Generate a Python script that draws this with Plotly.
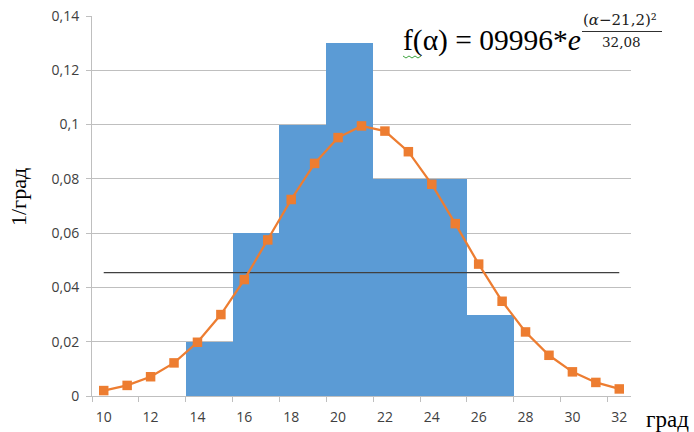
import plotly.graph_objects as go

# ---- data ----
alpha = [10, 11, 12, 13, 14, 15, 16, 17, 18, 19, 20, 21, 22, 23, 24, 25, 26, 27, 28, 29, 30, 31, 32]
f_vals = [0.0020, 0.0039, 0.0071, 0.0122, 0.0198, 0.0300, 0.0429, 0.0575, 0.0724, 0.0857,
          0.0952, 0.0995, 0.0976, 0.0900, 0.0780, 0.0635, 0.0486, 0.0349, 0.0236, 0.0150,
          0.0089, 0.0050, 0.0026]
bar_centers = [14.5, 16.5, 18.5, 20.5, 22.5, 24.5, 26.5]
bar_heights = [0.02, 0.06, 0.10, 0.13, 0.08, 0.08, 0.03]
uniform_x = [10, 32]
uniform_y = [0.04545, 0.04545]
x_tick_vals = [10, 12, 14, 16, 18, 20, 22, 24, 26, 28, 30, 32]
x_tick_text = ["10", "12", "14", "16", "18", "20", "22", "24", "26", "28", "30", "32"]
x_minor_ticks = [9.5, 11.5, 13.5, 15.5, 17.5, 19.5, 21.5, 23.5, 25.5, 27.5, 29.5, 31.5]
y_tick_vals = [0, 0.02, 0.04, 0.06, 0.08, 0.10, 0.12, 0.14]
y_tick_text = ["0", "0,02", "0,04", "0,06", "0,08", "0,1", "0,12", "0,14"]

# ---- layout geometry ----
W, H = 694, 432
ML, MR, MT, MB = 92, 63, 16, 36
PW, PH = W - ML - MR, H - MT - MB


def px(x):
    return (x - ML) / PW


def py(y):
    return (H - MB - y) / PH


GRID = "#BFBFBF"
TXT = "#404040"

fig = go.Figure()
fig.add_trace(go.Bar(x=bar_centers, y=bar_heights, width=2,
                     marker=dict(color="#5B9BD5", line=dict(width=0)),
                     showlegend=False, hoverinfo="skip"))
fig.add_trace(go.Scatter(x=uniform_x, y=uniform_y, mode="lines",
                         line=dict(color="#404040", width=1.4),
                         showlegend=False, hoverinfo="skip"))
fig.add_trace(go.Scatter(x=alpha, y=f_vals, mode="lines+markers",
                         line=dict(color="#ED7D31", width=2.25),
                         marker=dict(symbol="square", size=9.5, color="#ED7D31"),
                         showlegend=False, hoverinfo="skip"))

fig.update_layout(
    template="none",
    width=W, height=H,
    margin=dict(l=ML, r=MR, t=MT, b=MB, pad=0, autoexpand=False),
    paper_bgcolor="white", plot_bgcolor="white",
    bargap=0,
    xaxis=dict(range=[9.5, 32.5], tickmode="array", tickvals=x_tick_vals, ticktext=x_tick_text,
               ticks="", showgrid=False, zeroline=False, showline=True, linecolor=GRID, linewidth=1,
               automargin=False,
               tickfont=dict(family="Open Sans", size=14, color=TXT), ticklabelstandoff=8,
               minor=dict(tickmode="array", tickvals=x_minor_ticks, ticks="outside", ticklen=5,
                          tickcolor=GRID, tickwidth=1, showgrid=False)),
    yaxis=dict(range=[0, 0.14], tickmode="array", tickvals=y_tick_vals, ticktext=y_tick_text,
               ticks="outside", ticklen=5, tickcolor=GRID, tickwidth=1,
               showgrid=True, gridcolor=GRID, gridwidth=1, zeroline=False,
               showline=True, linecolor=GRID, linewidth=1, automargin=False,
               tickfont=dict(family="Open Sans", size=14, color=TXT), ticklabelstandoff=4),
    font=dict(family="Open Sans"),
    showlegend=False,
)

# white box of the pasted formula image (hides gridlines behind it)
fig.add_shape(type="rect", xref="paper", yref="paper",
              x0=px(383), x1=px(W + 5), y0=py(60), y1=py(-5),
              fillcolor="white", line=dict(width=0), layer="above")
# fraction bar
fig.add_shape(type="line", xref="paper", yref="paper",
              x0=px(582), x1=px(662), y0=py(31.5), y1=py(31.5),
              line=dict(color="#303030", width=1.2), layer="above")
# spell-check wavy underline under "f"
wx = [403, 406, 409, 412, 415, 418, 421]
wy = [56, 58, 56, 58, 56, 58, 56]
path = "M " + " L ".join(f"{px(a):.5f},{py(b):.5f}" for a, b in zip(wx, wy))
fig.add_shape(type="path", xref="paper", yref="paper", path=path,
              line=dict(color="#3DA33D", width=1), layer="above")

SERIF = "Liberation Serif"
fig.add_annotation(xref="paper", yref="paper", x=px(401), y=py(41), xanchor="left", yanchor="middle",
                   text="f(α) = 09996*<i>e</i>", showarrow=False,
                   font=dict(family=SERIF, size=29.5, color="black"))
fig.add_annotation(xref="paper", yref="paper", x=px(620), y=py(20), xanchor="center", yanchor="middle",
                   text="(<i>α</i>−21,2)²", showarrow=False,
                   font=dict(family="DejaVu Serif", size=15, color="#202020"))
fig.add_annotation(xref="paper", yref="paper", x=px(621), y=py(42), xanchor="center", yanchor="middle",
                   text="32,08", showarrow=False,
                   font=dict(family="DejaVu Serif", size=13.5, color="#202020"))
# axis titles
fig.add_annotation(xref="paper", yref="paper", x=px(18), y=py(197), xanchor="center", yanchor="middle",
                   text="1/град", textangle=-90, showarrow=False,
                   font=dict(family=SERIF, size=22, color="black"))
fig.add_annotation(xref="paper", yref="paper", x=px(667), y=py(419), xanchor="center", yanchor="middle",
                   text="град", showarrow=False,
                   font=dict(family=SERIF, size=23, color="black"))

fig.write_html("out.html")
